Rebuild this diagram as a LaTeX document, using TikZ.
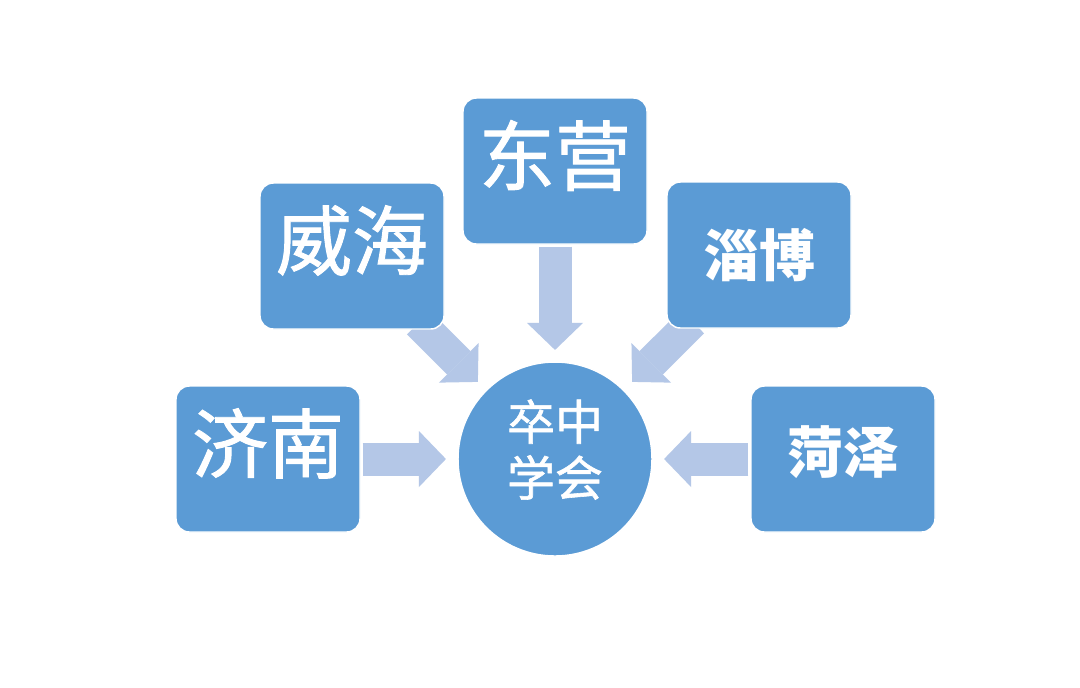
\documentclass[tikz,border=0pt]{standalone}
\usepackage{fontspec}
\setmainfont{Noto Sans CJK SC}
\newfontfamily\cjkreg[FakeBold=1.2]{Noto Sans CJK SC}
\usetikzlibrary{arrows.meta,calc,backgrounds}
\definecolor{boxblue}{RGB}{91,155,213}
\definecolor{flowblue}{RGB}{180,199,231}
\tikzset{every picture/.style={line width=0.75pt}}

\begin{document}
\begin{tikzpicture}[x=0.75pt,y=0.75pt,yscale=-1,xscale=1,
  city/.style={rectangle, rounded corners=10pt, fill=boxblue, draw=white, line width=1.1pt, minimum width=138pt, minimum height=109.5pt, inner sep=0pt, text=white, align=center},
  bigname/.style={city, font=\cjkreg\fontsize{57}{60}\selectfont, text depth=28pt},
  boldname/.style={city, font=\fontsize{42}{44}\selectfont\bfseries},
  hubcircle/.style={circle, fill=boxblue, draw=white, line width=1.1pt, minimum size=145.5pt, inner sep=0pt, text=white, align=center, font=\cjkreg\fontsize{36}{42}\selectfont, text depth=17pt},
  flow/.style={line width=24.75pt, draw=flowblue, -{Triangle[length=20.25pt,width=42pt,line width=0pt]}, shorten <=1.5pt, shorten >=8.5pt}
]
\useasboundingbox (0,0) rectangle (1080,687);

%Shape: Circle [id:hub]
\node[hubcircle] (hub) at (555,459) {卒中\\学会};
%Shape: Rectangle [id:jn]
\node[bigname] (jn) at (268,459) {济南};
%Shape: Rectangle [id:wh]
\node[bigname] (wh) at (352,256) {威海};
%Shape: Rectangle [id:dy]
\node[bigname] (dy) at (555,171) {东营};
%Shape: Rectangle [id:zb]
\node[boldname] (zb) at (759,255) {淄博};
%Shape: Rectangle [id:hz]
\node[boldname, text depth=14pt] (hz) at (843,459) {菏泽};

\begin{scope}[on background layer]
\fill[white] (0,0) rectangle (1080,687);
%Block Arrows
\foreach \src in {jn,dy,hz}
  \draw[flow] (\src) -- (hub);
\foreach \src in {wh,zb}
  \draw[flow, shorten <=-7.5pt] (\src) -- (hub);
\end{scope}

\end{tikzpicture}
\end{document}
